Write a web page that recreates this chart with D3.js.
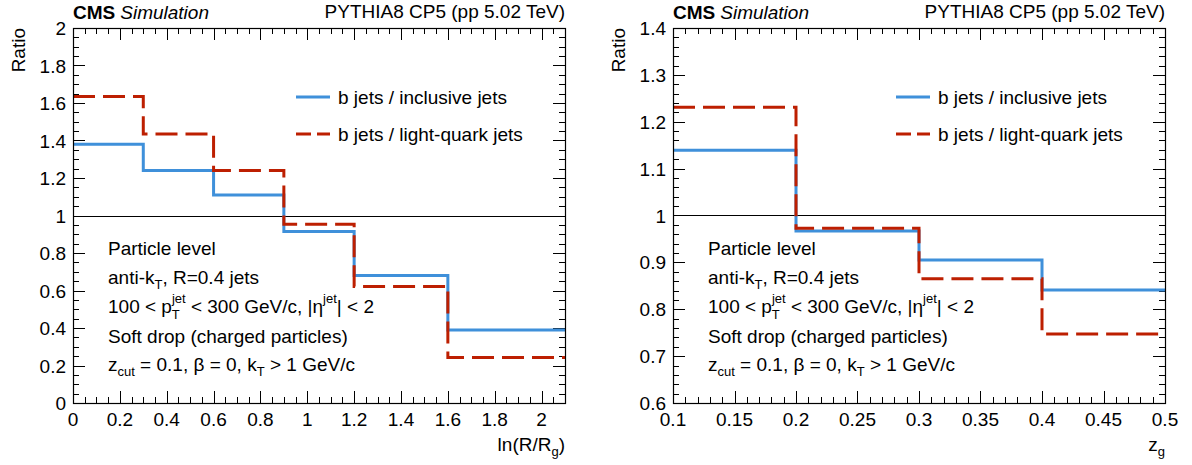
<!DOCTYPE html>
<html>
<head>
<meta charset="utf-8">
<script src="https://cdn.jsdelivr.net/npm/d3@7"></script>
<style>
  body { margin: 0; background: #fff; }
  text { font-family: "Liberation Sans", Arial, sans-serif; fill: #000; }
</style>
</head>
<body>
<div id="chart"></div>
<script>
// ---- data ----
var lnEdges = [0, 0.3, 0.6, 0.9, 1.2, 1.6, 2.1];
var lnBInclusive = [1.38, 1.24, 1.11, 0.915, 0.68, 0.39];
var lnBLight = [1.635, 1.435, 1.24, 0.953, 0.622, 0.243];

var zgEdges = [0.1, 0.2, 0.3, 0.4, 0.5];
var zgBInclusive = [1.139, 0.967, 0.905, 0.841];
var zgBLight = [1.231, 0.973, 0.865, 0.747];

var lnXTicks = [0, 0.2, 0.4, 0.6, 0.8, 1, 1.2, 1.4, 1.6, 1.8, 2];
var lnYTicks = [0, 0.2, 0.4, 0.6, 0.8, 1, 1.2, 1.4, 1.6, 1.8, 2];
var zgXTicks = [0.1, 0.15, 0.2, 0.25, 0.3, 0.35, 0.4, 0.45, 0.5];
var zgYTicks = [0.6, 0.7, 0.8, 0.9, 1, 1.1, 1.2, 1.3, 1.4];

var legendLabels = ["b jets / inclusive jets", "b jets / light-quark jets"];

var blue = "#3f90da", red = "#bd1f01";
var fs = 19, fsSub = 13;

var svg = d3.select("#chart").append("svg")
    .attr("width", 1192)
    .attr("height", 465);

var W = 492, H = 375, marginTop = 28;

function panel(opt) {
  var g = svg.append("g").attr("transform", "translate(" + opt.left + "," + marginTop + ")");

  var x = d3.scaleLinear().domain(opt.xDomain).range([0, W]);
  var y = d3.scaleLinear().domain(opt.yDomain).range([H, 0]);

  // ticks on all four sides
  var xMinor = d3.range(opt.xDomain[0], opt.xDomain[1] + 1e-9, opt.xMinor);
  var yMinor = d3.range(opt.yDomain[0], opt.yDomain[1] + 1e-9, opt.yMinor);
  var tk = g.append("g").attr("stroke", "#000").attr("stroke-width", 1);
  function isMajor(v, list) { return list.some(function(t) { return Math.abs(t - v) < 1e-6; }); }
  xMinor.forEach(function(v) {
    var len = isMajor(v, opt.xTicks) ? 12 : 6;
    var px = Math.round(x(v)) + 0.5;
    tk.append("line").attr("x1", px).attr("x2", px).attr("y1", H).attr("y2", H - len);
    tk.append("line").attr("x1", px).attr("x2", px).attr("y1", 0).attr("y2", len);
  });
  yMinor.forEach(function(v) {
    var len = isMajor(v, opt.yTicks) ? 12 : 6;
    var py = Math.round(y(v)) + 0.5;
    tk.append("line").attr("y1", py).attr("y2", py).attr("x1", 0).attr("x2", len);
    tk.append("line").attr("y1", py).attr("y2", py).attr("x1", W).attr("x2", W - len);
  });

  // reference line at 1
  g.append("line")
      .attr("x1", 0).attr("x2", W)
      .attr("y1", Math.round(y(1)) + 0.5).attr("y2", Math.round(y(1)) + 0.5)
      .attr("stroke", "#000").attr("stroke-width", 1);

  // histograms
  var line = d3.line()
      .x(function(d) { return x(d[0]); })
      .y(function(d) { return y(d[1]); })
      .curve(d3.curveStepAfter);
  function steps(edges, vals) {
    var pts = vals.map(function(v, i) { return [edges[i], v]; });
    pts.push([edges[edges.length - 1], vals[vals.length - 1]]);
    return pts;
  }
  g.append("path").attr("d", line(steps(opt.edges, opt.inc)))
      .attr("fill", "none").attr("stroke", blue).attr("stroke-width", 3);
  g.append("path").attr("d", line(steps(opt.edges, opt.light)))
      .attr("fill", "none").attr("stroke", red).attr("stroke-width", 3)
      .attr("stroke-dasharray", "22,8");

  // frame
  g.append("rect").attr("x", 0.5).attr("y", 0.5).attr("width", W).attr("height", H)
      .attr("fill", "none").attr("stroke", "#000").attr("stroke-width", 1.2);

  // tick labels
  g.append("g").selectAll("text").data(opt.xTicks).enter().append("text")
      .attr("x", function(d) { return x(d); })
      .attr("y", H + 23)
      .attr("text-anchor", "middle")
      .attr("font-size", fs)
      .text(function(d) { return d; });
  g.append("g").selectAll("text").data(opt.yTicks).enter().append("text")
      .attr("x", -7)
      .attr("y", function(d) { return y(d) + 7; })
      .attr("text-anchor", "end")
      .attr("font-size", fs)
      .text(function(d) { return d; });

  // axis titles
  g.append("text")
      .attr("transform", "translate(-48,0) rotate(-90)")
      .attr("text-anchor", "end")
      .attr("font-size", fs)
      .text("Ratio");
  var xt = g.append("text")
      .attr("x", W).attr("y", H + 48)
      .attr("text-anchor", "end")
      .attr("font-size", fs);
  opt.xTitle(xt);

  // header
  var hd = g.append("text").attr("x", 0).attr("y", -9).attr("font-size", fs);
  hd.append("tspan").attr("font-weight", "bold").text("CMS");
  hd.append("tspan").attr("font-style", "italic").attr("dx", 5).text("Simulation");
  g.append("text").attr("x", W).attr("y", -10).attr("text-anchor", "end")
      .attr("font-size", fs).text("PYTHIA8 CP5 (pp 5.02 TeV)");

  // legend
  var lg = g.append("g").attr("transform", "translate(223,69)");
  [[blue, null], [red, "15,6"]].forEach(function(s, i) {
    lg.append("line").attr("x1", 0).attr("x2", 34)
        .attr("y1", i * 37).attr("y2", i * 37)
        .attr("stroke", s[0]).attr("stroke-width", 3)
        .attr("stroke-dasharray", s[1]);
    lg.append("text").attr("x", 42).attr("y", i * 37 + 7)
        .attr("font-size", fs).text(legendLabels[i]);
  });

  // annotation text
  var ax = 35, base = 227, dy = 29;
  var ann = g.append("g").attr("font-size", fs);
  ann.append("text").attr("x", ax).attr("y", base).text("Particle level");
  var t2 = ann.append("text").attr("x", ax).attr("y", base + dy);
  t2.append("tspan").text("anti-k");
  t2.append("tspan").attr("font-size", fsSub).attr("dy", 5).text("T");
  t2.append("tspan").attr("dy", -5).text(", R=0.4 jets");
  var t3 = ann.append("text").attr("x", ax).attr("y", base + 2 * dy);
  t3.append("tspan").text("100 < p");
  t3.append("tspan").attr("font-size", fsSub).attr("dy", -10).text("jet");
  t3.append("tspan").attr("font-size", fsSub).attr("dx", -14).attr("dy", 16).text("T");
  t3.append("tspan").attr("dx", 6).attr("dy", -6).text(" < 300 GeV/c, |η");
  t3.append("tspan").attr("font-size", fsSub).attr("dy", -10).text("jet");
  t3.append("tspan").attr("dy", 10).text("| < 2");
  ann.append("text").attr("x", ax).attr("y", base + 3 * dy + 1).text("Soft drop (charged particles)");
  var t5 = ann.append("text").attr("x", ax).attr("y", base + 4 * dy);
  t5.append("tspan").text("z");
  t5.append("tspan").attr("font-size", fsSub).attr("dy", 5).text("cut");
  t5.append("tspan").attr("dy", -5).text(" = 0.1, β = 0, k");
  t5.append("tspan").attr("font-size", fsSub).attr("dy", 5).text("T");
  t5.append("tspan").attr("dy", -5).text(" > 1 GeV/c");
}

panel({
  left: 73, xDomain: [0, 2.1], yDomain: [0, 2],
  xTicks: lnXTicks, yTicks: lnYTicks, xMinor: 0.05, yMinor: 0.05,
  edges: lnEdges, inc: lnBInclusive, light: lnBLight,
  xTitle: function(t) {
    t.append("tspan").text("ln(R/R");
    t.append("tspan").attr("font-size", fsSub).attr("dy", 5).text("g");
    t.append("tspan").attr("dy", -5).text(")");
  }
});

panel({
  left: 673, xDomain: [0.1, 0.5], yDomain: [0.6, 1.4],
  xTicks: zgXTicks, yTicks: zgYTicks, xMinor: 0.01, yMinor: 0.02,
  edges: zgEdges, inc: zgBInclusive, light: zgBLight,
  xTitle: function(t) {
    t.append("tspan").text("z");
    t.append("tspan").attr("font-size", fsSub).attr("dy", 5).text("g");
  }
});
</script>
</body>
</html>
